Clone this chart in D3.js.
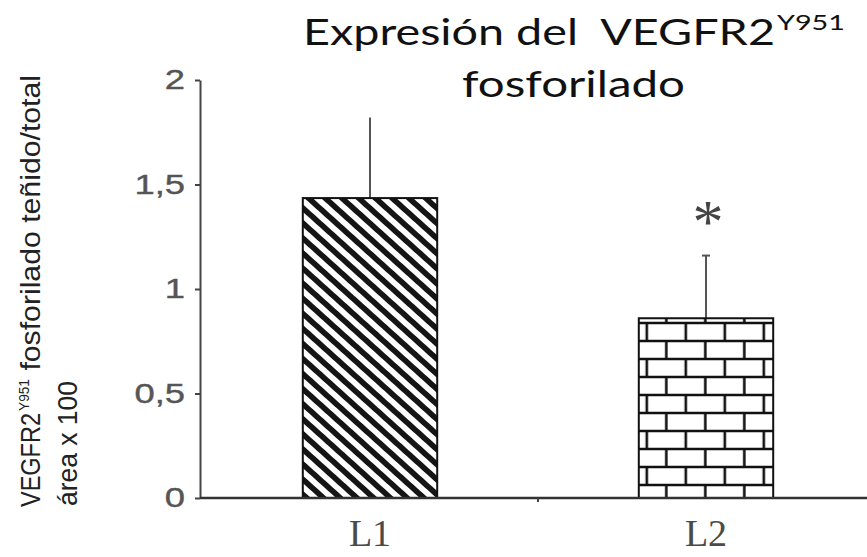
<!DOCTYPE html>
<html>
<head>
<meta charset="utf-8">
<script src="https://cdn.jsdelivr.net/npm/d3@7"></script>
<style>
  html, body { margin: 0; padding: 0; background: #fff; }
  svg { display: block; }
  svg text { white-space: pre; }
</style>
</head>
<body>
<svg id="chart" width="867" height="557"></svg>
<script>
// ---- data ----
const categories = ["L1", "L2"];
const values = [1.435, 0.86];
const errors = [0.385, 0.30];
const significance = ["", "*"];
const yTicks = [0, 0.5, 1, 1.5, 2];
const yTickLabels = ["0", "0,5", "1", "1,5", "2"];
const titleLine1 = "Expresión del  VEGFR2";
const titleSup = "Y951";
const titleLine2 = "fosforilado";
const yLabelMain = "VEGFR2";
const yLabelSup = "Y951";
const yLabelRest = " fosforilado teñido/total";
const yLabelLine2 = "área x 100";

// ---- layout ----
const W = 867, H = 557;
const svg = d3.select("#chart");
const y = d3.scaleLinear().domain([0, 2]).range([498, 80]);
const x = d3.scaleBand().domain(categories).range([202, 874]).paddingInner(0.6).paddingOuter(0.3);
const axisX = 200;

// ---- patterns ----
const defs = svg.append("defs");
// diagonal stripes
const sp = 11.2;
const stripes = defs.append("pattern")
  .attr("id", "stripes")
  .attr("patternUnits", "userSpaceOnUse")
  .attr("width", sp).attr("height", sp)
  .attr("x", x("L1")).attr("y", y(values[0]))
  .attr("patternTransform", "rotate(-48)");
stripes.append("rect").attr("width", sp).attr("height", sp).attr("fill", "#fff");
stripes.append("rect").attr("width", sp * 0.5).attr("height", sp).attr("fill", "#151515");

// bricks
const bw = 39, bh = 18;
const bricks = defs.append("pattern")
  .attr("id", "bricks")
  .attr("patternUnits", "userSpaceOnUse")
  .attr("width", bw).attr("height", bh * 2)
  .attr("x", x("L2") + 8 - 10).attr("y", y(0) - 13 - bh * 7 - 9);
bricks.append("rect").attr("width", bw).attr("height", bh * 2).attr("fill", "#fff");
const bs = "#111", bsw = 2.6;
bricks.append("line").attr("x1", 0).attr("x2", bw).attr("y1", 9).attr("y2", 9).attr("stroke", bs).attr("stroke-width", bsw);
bricks.append("line").attr("x1", 0).attr("x2", bw).attr("y1", 27).attr("y2", 27).attr("stroke", bs).attr("stroke-width", bsw);
bricks.append("line").attr("x1", 10).attr("x2", 10).attr("y1", 9).attr("y2", 27).attr("stroke", bs).attr("stroke-width", bsw);
bricks.append("line").attr("x1", 29.5).attr("x2", 29.5).attr("y1", 27).attr("y2", 36).attr("stroke", bs).attr("stroke-width", bsw);
bricks.append("line").attr("x1", 29.5).attr("x2", 29.5).attr("y1", 0).attr("y2", 9).attr("stroke", bs).attr("stroke-width", bsw);

const fills = ["url(#stripes)", "url(#bricks)"];

// ---- error bars ----
categories.forEach((c, i) => {
  const cx = x(c) + x.bandwidth() / 2;
  svg.append("line")
    .attr("x1", cx).attr("x2", cx)
    .attr("y1", y(values[i])).attr("y2", y(values[i] + errors[i]))
    .attr("stroke", "#555").attr("stroke-width", 2);
  if (i === 1) {
    svg.append("line")
      .attr("x1", cx - 4).attr("x2", cx + 4)
      .attr("y1", y(values[i] + errors[i])).attr("y2", y(values[i] + errors[i]))
      .attr("stroke", "#555").attr("stroke-width", 2);
  }
  if (significance[i]) {
    svg.append("text")
      .attr("x", cx + 2).attr("y", y(values[i] + errors[i]) - 14)
      .attr("text-anchor", "middle")
      .attr("font-family", "Liberation Serif, Times New Roman, serif")
      .attr("font-size", 62)
      .attr("fill", "#444")
      .text(significance[i]);
  }
});

// ---- bars ----
svg.selectAll("rect.bar").data(categories).enter().append("rect")
  .attr("class", "bar")
  .attr("x", d => x(d))
  .attr("y", (d, i) => y(values[i]))
  .attr("width", x.bandwidth())
  .attr("height", (d, i) => y(0) - y(values[i]))
  .attr("fill", (d, i) => fills[i])
  .attr("stroke", "#111").attr("stroke-width", 2);

// ---- y axis ----
const ya = svg.append("g").attr("transform", `translate(${axisX},0)`)
  .call(d3.axisLeft(y).tickValues(yTicks).tickFormat((d, i) => yTickLabels[i]).tickSize(5).tickSizeOuter(0).tickPadding(10));
ya.select(".domain").attr("stroke", "#444").attr("stroke-width", 2);
ya.selectAll(".tick line").attr("stroke", "#444").attr("stroke-width", 2);
ya.selectAll(".tick text")
  .attr("font-family", "Liberation Sans, Arial, sans-serif")
  .attr("font-size", 28)
  .attr("fill", "#555")
  .attr("stroke", "#555").attr("stroke-width", 0.4)
  .attr("x", -15 / 1.3)
  .attr("transform", "scale(1.3,1)");

// ---- x axis ----
svg.append("line")
  .attr("x1", axisX).attr("x2", W)
  .attr("y1", y(0)).attr("y2", y(0))
  .attr("stroke", "#333").attr("stroke-width", 2.5);
const step = x.step();
const midTick = x(categories[0]) + x.bandwidth() + (step - x.bandwidth()) / 2;
svg.append("line")
  .attr("x1", midTick).attr("x2", midTick)
  .attr("y1", y(0)).attr("y2", y(0) + 4)
  .attr("stroke", "#444").attr("stroke-width", 2);
svg.selectAll("text.xlab").data(categories).enter().append("text")
  .attr("class", "xlab")
  .attr("x", d => x(d) + x.bandwidth() / 2)
  .attr("y", 546)
  .attr("text-anchor", "middle")
  .attr("font-family", "Liberation Serif, Times New Roman, serif")
  .attr("font-size", 38)
  .attr("fill", "#4a4a4a")
  .text(d => d);

// ---- title ----
const tfont = "Lato, Carlito, 'Open Sans', sans-serif";
svg.append("text").attr("x", 303).attr("y", 45)
  .attr("font-family", tfont).attr("font-size", 37).attr("fill", "#111")
  .attr("textLength", 472).attr("lengthAdjust", "spacingAndGlyphs")
  .text(titleLine1);
svg.append("text").attr("x", 777).attr("y", 30)
  .attr("font-family", tfont).attr("font-size", 21).attr("fill", "#111")
  .attr("textLength", 68).attr("lengthAdjust", "spacingAndGlyphs")
  .text(titleSup);
svg.append("text").attr("x", 462).attr("y", 97)
  .attr("font-family", tfont).attr("font-size", 37).attr("fill", "#111")
  .attr("textLength", 223).attr("lengthAdjust", "spacingAndGlyphs")
  .text(titleLine2);

// ---- y label ----
const lfont = "Liberation Sans, Arial, sans-serif";
const yl = svg.append("g").attr("transform", "translate(40,507) rotate(-90)");
yl.append("text").attr("x", 0).attr("y", 0)
  .attr("font-family", lfont).attr("font-size", 27).attr("fill", "#222")
  .attr("textLength", 94).attr("lengthAdjust", "spacingAndGlyphs")
  .text(yLabelMain);
yl.append("text").attr("x", 96).attr("y", -11)
  .attr("font-family", lfont).attr("font-size", 15).attr("fill", "#222")
  .attr("textLength", 32).attr("lengthAdjust", "spacingAndGlyphs")
  .text(yLabelSup);
yl.append("text").attr("x", 128).attr("y", 0)
  .attr("font-family", lfont).attr("font-size", 27).attr("fill", "#222")
  .attr("textLength", 304).attr("lengthAdjust", "spacingAndGlyphs")
  .text(yLabelRest);
const yl2 = svg.append("g").attr("transform", "translate(77,506) rotate(-90)");
yl2.append("text").attr("x", 0).attr("y", 0)
  .attr("font-family", lfont).attr("font-size", 27).attr("fill", "#222")
  .attr("textLength", 125).attr("lengthAdjust", "spacingAndGlyphs")
  .text(yLabelLine2);
</script>
</body>
</html>
